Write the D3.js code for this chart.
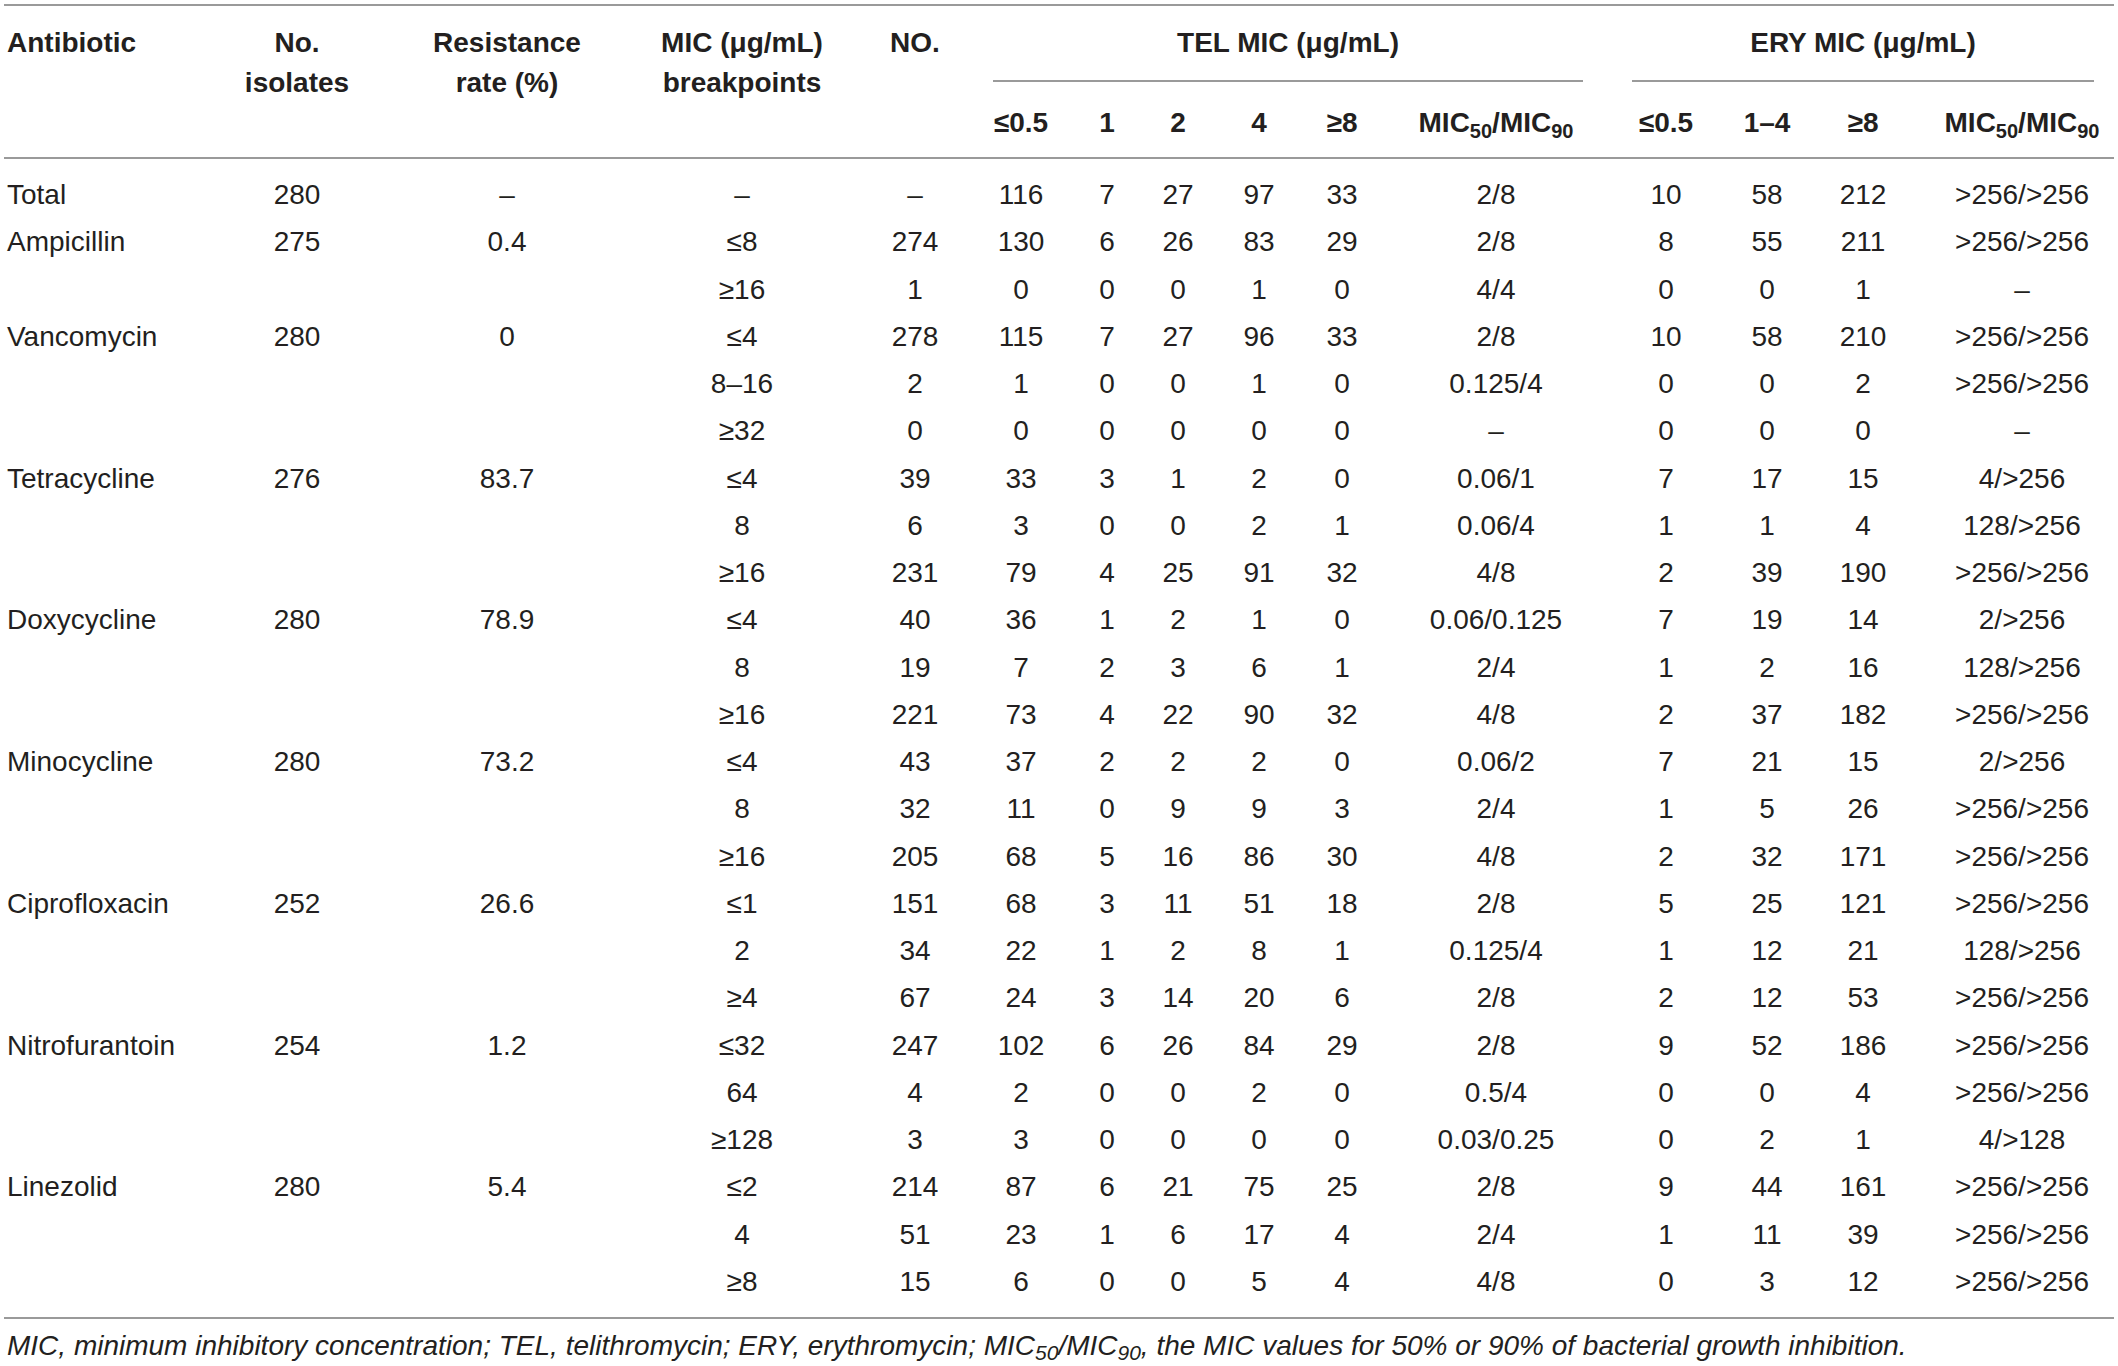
<!doctype html>
<html lang="en">
<head>
	<meta charset="utf-8">
	<title>TEL and ERY MIC by antibiotic breakpoint</title>
	<script src="https://cdn.jsdelivr.net/npm/d3@7"></script>
	<style>
		body { margin: 0; background: #fff; }
		svg text { font-family: "Liberation Sans", Arial, Helvetica, sans-serif; fill: #231f20; }
		.hd { font-weight: bold; }
		.note { font-style: italic; }
		.rule { stroke: #9a9a9a; stroke-width: 2; }
	</style>
</head>
<body>
	<div id="chart"></div>

	<script>
		// antibiotics (first row of each group)
		var drugs = ["Total", "Ampicillin", "Vancomycin", "Tetracycline", "Doxycycline", "Minocycline", "Ciprofloxacin", "Nitrofurantoin", "Linezolid"];
		var groupSizes = [1, 2, 3, 3, 3, 3, 3, 3, 3];
		var isolates = [280, 275, 280, 276, 280, 280, 252, 254, 280];
		var resistance = ["–", "0.4", "0", "83.7", "78.9", "73.2", "26.6", "1.2", "5.4"];

		// one entry per table row
		var breakpoints = ["–", "≤8", "≥16", "≤4", "8–16", "≥32", "≤4", "8", "≥16", "≤4", "8", "≥16",
			"≤4", "8", "≥16", "≤1", "2", "≥4", "≤32", "64", "≥128", "≤2", "4", "≥8"];
		var counts = ["–", 274, 1, 278, 2, 0, 39, 6, 231, 40, 19, 221, 43, 32, 205, 151, 34, 67, 247, 4, 3, 214, 51, 15];

		var telLabels = ["≤0.5", "1", "2", "4", "≥8"];
		var telCounts = [
			[116, 7, 27, 97, 33], [130, 6, 26, 83, 29], [0, 0, 0, 1, 0],
			[115, 7, 27, 96, 33], [1, 0, 0, 1, 0], [0, 0, 0, 0, 0],
			[33, 3, 1, 2, 0], [3, 0, 0, 2, 1], [79, 4, 25, 91, 32],
			[36, 1, 2, 1, 0], [7, 2, 3, 6, 1], [73, 4, 22, 90, 32],
			[37, 2, 2, 2, 0], [11, 0, 9, 9, 3], [68, 5, 16, 86, 30],
			[68, 3, 11, 51, 18], [22, 1, 2, 8, 1], [24, 3, 14, 20, 6],
			[102, 6, 26, 84, 29], [2, 0, 0, 2, 0], [3, 0, 0, 0, 0],
			[87, 6, 21, 75, 25], [23, 1, 6, 17, 4], [6, 0, 0, 5, 4]
		];
		var telMic = ["2/8", "2/8", "4/4", "2/8", "0.125/4", "–", "0.06/1", "0.06/4", "4/8", "0.06/0.125", "2/4", "4/8",
			"0.06/2", "2/4", "4/8", "2/8", "0.125/4", "2/8", "2/8", "0.5/4", "0.03/0.25", "2/8", "2/4", "4/8"];

		var eryLabels = ["≤0.5", "1–4", "≥8"];
		var eryCounts = [
			[10, 58, 212], [8, 55, 211], [0, 0, 1],
			[10, 58, 210], [0, 0, 2], [0, 0, 0],
			[7, 17, 15], [1, 1, 4], [2, 39, 190],
			[7, 19, 14], [1, 2, 16], [2, 37, 182],
			[7, 21, 15], [1, 5, 26], [2, 32, 171],
			[5, 25, 121], [1, 12, 21], [2, 12, 53],
			[9, 52, 186], [0, 0, 4], [0, 2, 1],
			[9, 44, 161], [1, 11, 39], [0, 3, 12]
		];
		var eryMic = [">256/>256", ">256/>256", "–", ">256/>256", ">256/>256", "–", "4/>256", "128/>256", ">256/>256",
			"2/>256", "128/>256", ">256/>256", "2/>256", ">256/>256", ">256/>256", ">256/>256", "128/>256", ">256/>256",
			">256/>256", ">256/>256", "4/>128", ">256/>256", ">256/>256", ">256/>256"];

		var footnote = "MIC, minimum inhibitory concentration; TEL, telithromycin; ERY, erythromycin; ";
		var footnote2 = ", the MIC values for 50% or 90% of bacterial growth inhibition.";

		var widthSvg = 2118;
		var heightSvg = 1366;

		// column keys and their centre positions
		var colKeys = ["isolates", "resist", "bp", "no", "t0", "t1", "t2", "t3", "t4", "tmic", "e0", "e1", "e2", "emic"];
		var colPos = [297, 507, 742, 915, 1021, 1107, 1178, 1259, 1342, 1496, 1666, 1767, 1863, 2022];
		var xCol = d3.scaleOrdinal().domain(colKeys).range(colPos);

		var yRow = d3.scaleLinear().domain([0, breakpoints.length - 1]).range([204, 1291]);

		// build flat rows
		var rows = [];
		var r = 0;
		groupSizes.forEach(function(n, g) {
			for (var k = 0; k < n; k++) {
				var cells = [];
				if (k === 0) {
					cells.push({ col: "isolates", v: isolates[g] });
					cells.push({ col: "resist", v: resistance[g] });
				}
				cells.push({ col: "bp", v: breakpoints[r] });
				cells.push({ col: "no", v: counts[r] });
				telCounts[r].forEach(function(v, j) { cells.push({ col: "t" + j, v: v }); });
				cells.push({ col: "tmic", v: telMic[r] });
				eryCounts[r].forEach(function(v, j) { cells.push({ col: "e" + j, v: v }); });
				cells.push({ col: "emic", v: eryMic[r] });
				rows.push({ i: r, drug: k === 0 ? drugs[g] : "", cells: cells });
				r++;
			}
		});

		var svg = d3.select("#chart").append("svg")
			.attr("width", widthSvg).attr("height", heightSvg);

		// rules
		var rules = [
			{ x1: 4, x2: 2114, y: 5 },
			{ x1: 993, x2: 1583, y: 81 },
			{ x1: 1632, x2: 2094, y: 81 },
			{ x1: 4, x2: 2114, y: 158 },
			{ x1: 4, x2: 2114, y: 1318 }
		];
		svg.selectAll(".rule").data(rules).enter().append("line")
			.attr("class", "rule")
			.attr("x1", function(d) { return d.x1; })
			.attr("x2", function(d) { return d.x2; })
			.attr("y1", function(d) { return d.y; })
			.attr("y2", function(d) { return d.y; });

		// header
		var hd = svg.append("g").attr("class", "hd").style("font-size", "28px");
		var heads = [
			{ x: 7, lines: ["Antibiotic"], anchor: "start" },
			{ x: xCol("isolates"), lines: ["No.", "isolates"] },
			{ x: xCol("resist"), lines: ["Resistance", "rate (%)"] },
			{ x: xCol("bp"), lines: ["MIC (μg/mL)", "breakpoints"] },
			{ x: xCol("no"), lines: ["NO."] },
			{ x: 1288, lines: ["TEL MIC (μg/mL)"] },
			{ x: 1863, lines: ["ERY MIC (μg/mL)"] }
		];
		heads.forEach(function(h) {
			h.lines.forEach(function(t, j) {
				hd.append("text")
					.attr("x", h.x).attr("y", 52 + j * 40)
					.attr("text-anchor", h.anchor || "middle")
					.text(t);
			});
		});

		function micLabel(sel) {
			sel.append("tspan").text("MIC");
			sel.append("tspan").attr("dy", 6).style("font-size", "20px").text("50");
			sel.append("tspan").attr("dy", -6).text("/MIC");
			sel.append("tspan").attr("dy", 6).style("font-size", "20px").text("90");
		}

		var subs = telLabels.map(function(t, j) { return { col: "t" + j, t: t }; })
			.concat([{ col: "tmic", t: null }])
			.concat(eryLabels.map(function(t, j) { return { col: "e" + j, t: t }; }))
			.concat([{ col: "emic", t: null }]);
		subs.forEach(function(s) {
			var tx = hd.append("text")
				.attr("x", xCol(s.col)).attr("y", 132)
				.attr("text-anchor", "middle");
			if (s.t) tx.text(s.t); else micLabel(tx);
		});

		// body
		var body = svg.append("g").style("font-size", "28px");
		var rowG = body.selectAll(".row").data(rows).enter().append("g")
			.attr("class", "row")
			.attr("transform", function(d) { return "translate(0," + yRow(d.i) + ")"; });

		rowG.append("text")
			.attr("x", 7)
			.text(function(d) { return d.drug; });

		rowG.selectAll(".cell").data(function(d) { return d.cells; }).enter().append("text")
			.attr("class", "cell")
			.attr("x", function(d) { return xCol(d.col); })
			.attr("text-anchor", "middle")
			.text(function(d) { return d.v; });

		// footnote
		var note = svg.append("text").attr("class", "note")
			.attr("x", 7).attr("y", 1355)
			.style("font-size", "28px");
		note.append("tspan").text(footnote + "MIC");
		note.append("tspan").attr("dy", 5).style("font-size", "21px").text("50");
		note.append("tspan").attr("dy", -5).text("/MIC");
		note.append("tspan").attr("dy", 5).style("font-size", "21px").text("90");
		note.append("tspan").attr("dy", -5).text(footnote2);
	</script>
</body>
</html>
